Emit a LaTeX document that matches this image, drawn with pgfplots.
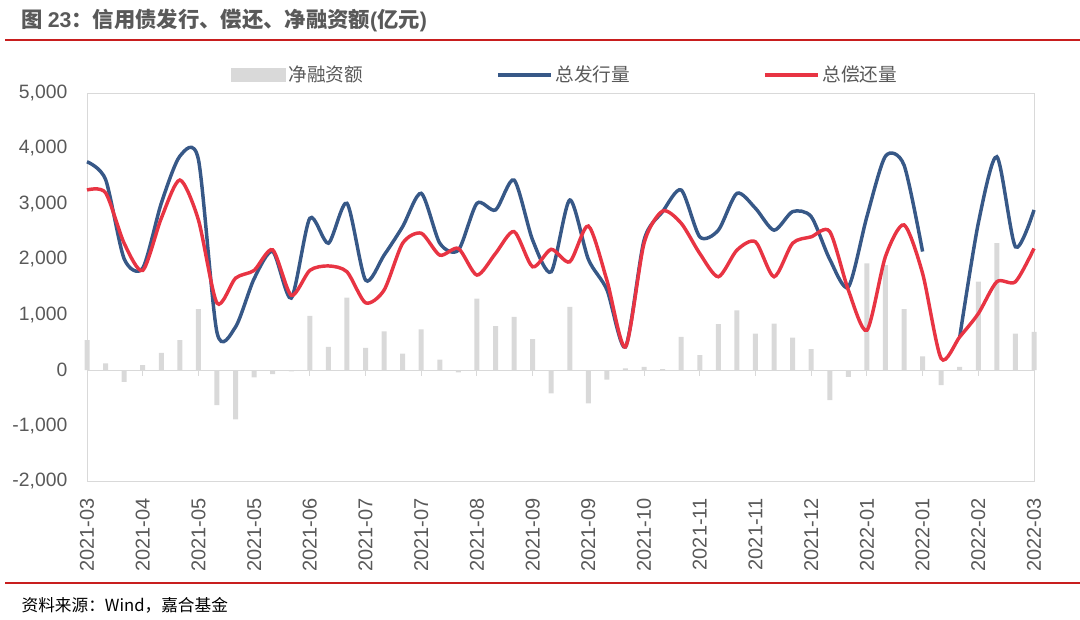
\documentclass[border=0pt]{standalone}
\usepackage{pgfplots}
\usepackage{pgfplotstable}
\pgfplotsset{compat=1.18}
\usepackage{fontspec}
\setmainfont{Liberation Sans}
\newfontfamily\cjk{Noto Sans CJK SC}
\definecolor{blueL}{RGB}{55,88,135}
\definecolor{redL}{RGB}{232,52,67}
\definecolor{barG}{RGB}{217,217,217}
\definecolor{txt}{RGB}{89,89,89}
\definecolor{hdr}{RGB}{200,30,30}

\pgfplotstableread{
i blue red net
0 3760 3250 540
1 3440 3200 120
2 2010 2290 -210
3 1840 1800 90
4 3010 2740 310
5 3860 3430 540
6 3800 2710 1100
7 680 1210 -630
8 780 1660 -890
9 1650 1800 -130
10 2140 2170 -70
11 1300 1350 -20
12 2740 1800 980
13 2290 1880 420
14 3010 1775 1310
15 1625 1215 400
16 2075 1445 700
17 2590 2290 300
18 3190 2470 735
19 2290 2075 190
20 2165 2195 -40
21 3010 1715 1290
22 2890 2105 795
23 3430 2500 960
24 2345 1865 560
25 1775 2180 -420
26 3070 1955 1140
27 2000 2600 -600
28 1450 1620 -170
29 420 420 30
30 2345 2290 60
31 2860 2870 20
32 3250 2650 600
33 2405 2105 270
34 2525 1685 830
35 3190 2165 1080
36 2920 2315 660
37 2525 1685 840
38 2860 2290 585
39 2770 2405 380
40 2000 2500 -540
41 1500 1445 -120
42 2770 720 1925
43 3860 2050 1895
44 3700 2620 1100
45 2140 1745 250
46 nan 210 -270
47 600 600 60
48 2650 1020 1595
49 3850 1595 2290
50 2225 1595 660
51 2890 2195 690
}\datatab

\begin{document}
\begin{tikzpicture}
\path[use as bounding box] (0pt,0pt) rectangle (810pt,464.25pt);
\node[anchor=west, text=txt, inner sep=0pt] at (16pt,449.25pt)
  {\fontsize{16}{16}\selectfont{\cjk\bfseries 图 }\textbf{23}{\cjk\bfseries ：信用债发行、偿还、净融资额}\textbf{(}{\cjk\bfseries 亿元}\textbf{)}};
\draw[hdr, line width=1.5pt] (3.75pt,434.25pt) -- (810pt,434.25pt);
\draw[hdr, line width=1.5pt] (3.75pt,27pt) -- (810pt,27pt);
\node[anchor=west, inner sep=0pt] at (16pt,10.5pt)
  {\cjk\fontsize{12.5}{12.5}\selectfont 资料来源：Wind，嘉合基金};
\begin{axis}[
  at={(65.25pt,103.5pt)}, anchor=south west,
  scale only axis, width=710.25pt, height=291pt,
  xmin=0, xmax=51, ymin=-2000, ymax=5000,
  ytick={-2000,-1000,...,5000},
  xtick={0,3,...,51},
  xticklabels={2021-03,2021-04,2021-05,2021-05,2021-06,2021-07,2021-07,2021-08,2021-09,2021-09,2021-10,2021-11,2021-11,2021-12,2022-01,2022-01,2022-02,2022-03},
  xticklabel style={rotate=90, anchor=east, font=\fontsize{15}{15}\selectfont, text=txt, xshift=-9.5pt},
  yticklabel style={font=\fontsize{14.5}{14.5}\selectfont, text=txt, xshift=-11.25pt},
  major tick length=0pt,
  axis line style={barG, line width=0.75pt},
  /pgf/number format/assume math mode=true,
  /pgf/number format/1000 sep={,},
  scaled y ticks=false,
  unbounded coords=jump,
  clip=false,
  legend columns=3,
  legend style={draw=none, fill=none, at={(0.5,1)}, anchor=center, yshift=13.5pt, xshift=3.75pt,
    font=\cjk\fontsize{14}{14}\selectfont, text=txt,
    /tikz/every even column/.append style={column sep=97.75pt}},
  legend cell align=left,
]
\addplot[ybar, bar width=3.75pt, fill=barG, draw=none,
  legend image code/.code={\fill[barG] (0pt,-5pt) rectangle (41pt,5pt);}]
  table[x=i, y=net]{\datatab};
\addlegendentry{净融资额}
\draw[barG, line width=0.75pt] (axis cs:0,0) -- (axis cs:51,0);
\pgfplotsinvokeforeach{0,3,...,51}{\draw[barG, line width=0.75pt] (axis cs:#1,0) -- ++(0pt,-4.5pt);}
\addplot[blueL, line width=2.6pt, smooth, tension=0.45, no markers,
  legend image code/.code={\draw[blueL, line width=2.6pt] (0pt,0pt) -- (40pt,0pt);}]
  table[x=i, y=blue]{\datatab};
\addlegendentry{总发行量}
\addplot[redL, line width=2.6pt, smooth, tension=0.45, no markers,
  legend image code/.code={\draw[redL, line width=2.6pt] (0pt,0pt) -- (40pt,0pt);}]
  table[x=i, y=red]{\datatab};
\addlegendentry{总偿还量}
\end{axis}
\end{tikzpicture}
\end{document}
